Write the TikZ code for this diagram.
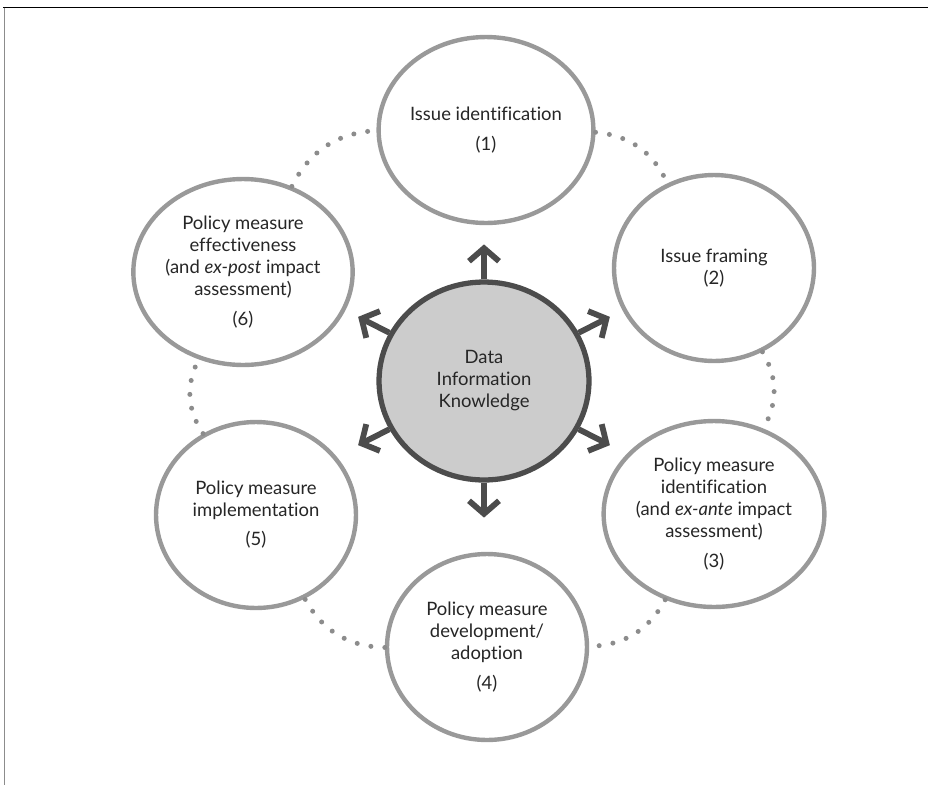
\documentclass[tikz,border=0pt]{standalone}
\usepackage{fontspec}
\setmainfont{Lato}[Ligatures={NoCommon}]
\usetikzlibrary{arrows.meta,shapes.geometric}

\begin{document}
\begin{tikzpicture}[x=0.02cm, y=-0.02cm,
    every node/.style={font=\fontsize{10.5}{12.5}\selectfont, text=black!85},
    stage/.style={ellipse, draw=black!40, line width=2.5pt, fill=white,
        minimum width=4cm, minimum height=3.72cm, inner sep=0pt, align=center},
    hubnode/.style={ellipse, draw=black!70, line width=3pt, fill=black!20,
        minimum width=4.2cm, minimum height=3.96cm, inner sep=0pt, align=center},
    flow/.style={black!70, line width=3.3pt, -{Straight Barb[length=0.26cm, width=0.6cm]}},
    link/.style={black!45, line width=0.1cm, line cap=round, dash pattern=on 0pt off 0.28cm}]
    % Frame
    \useasboundingbox (0,0) rectangle (933,785);
    \draw[black, line width=0.9pt] (3,7.5) -- (928,7.5);
    \draw[black!45, line width=0.9pt] (4.5,7.5) -- (4.5,785);
    % Centre
    \node[hubnode] (hub) at (484,381) {Data\\Information\\Knowledge};
    % Stages of the cycle
    \node[stage] (s1) at (486,130) {Issue identification\\[5pt](1)};
    \node[stage] (s2) at (714,268) {Issue framing\\(2)};
    \node[stage] (s3) at (714,514) {Policy measure\\identification\\(and \textit{ex-ante} impact\\assessment)\\[5pt](3)};
    \node[stage] (s4) at (487,647) {Policy measure\\development/\\adoption\\[5pt](4)};
    \node[stage] (s5) at (256,515) {Policy measure\\implementation\\[4pt](5)};
    \node[stage] (s6) at (243,272) {Policy measure\\effectiveness\\(and \textit{ex-post} impact\\assessment)\\[5pt](6)};
    % Dotted links
    \foreach \a/\b in {s1/s2, s2/s3, s3/s4, s4/s5, s5/s6, s6/s1} {
        \draw[link] (\a) to[bend left=30] (\b);
    }
    % Arrows out of the centre
    \foreach \ang [count=\i] in {90,27,-27,-90,207,153} {
        \path (hub.\ang) ++(\ang:0.7cm) coordinate (tip\i);
        \draw[flow] (hub.\ang) -- (tip\i);
    }
\end{tikzpicture}
\end{document}
